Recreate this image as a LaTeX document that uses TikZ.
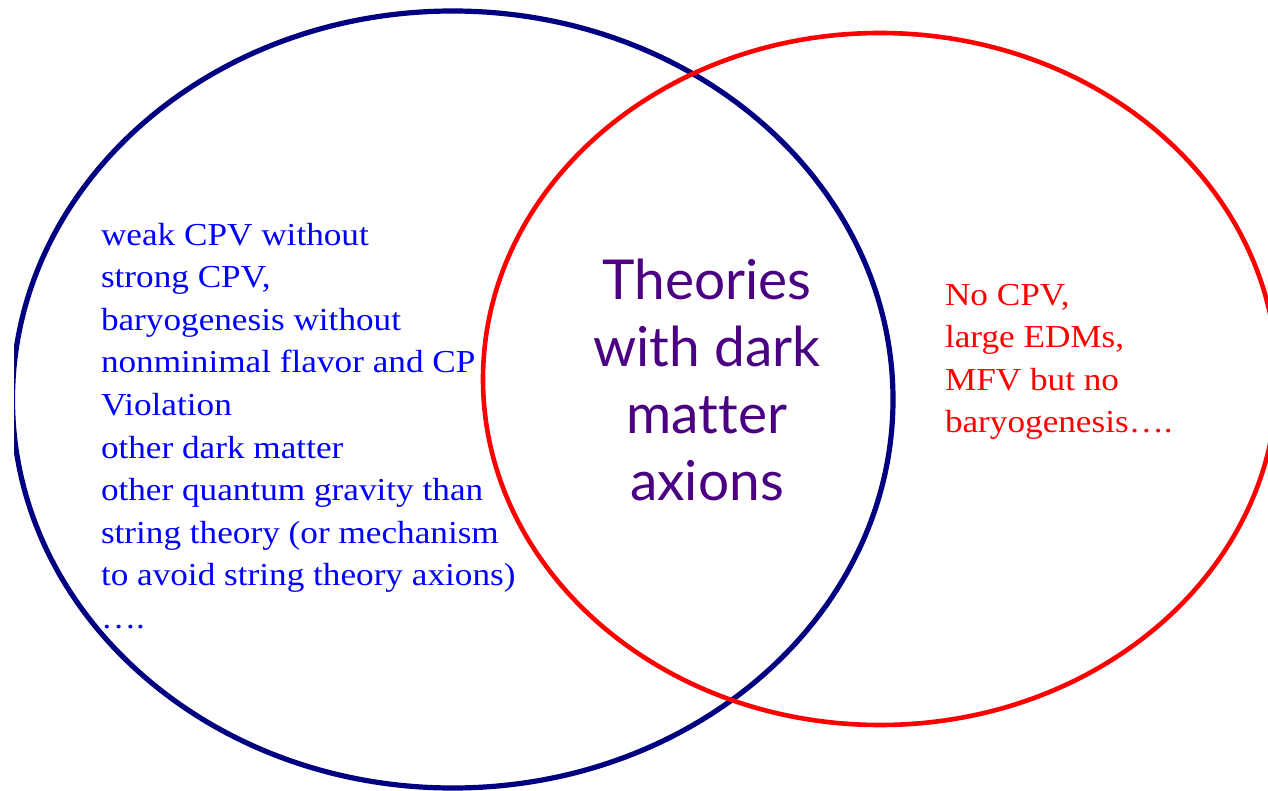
\documentclass[tikz,border=0pt]{standalone}
\usepackage{fontspec}
\setmainfont{Liberation Serif}
\newfontfamily\slidefont[FakeStretch=1.1]{Liberation Serif}
\newfontfamily\titlefont[Ligatures=NoCommon]{Lato}
\usetikzlibrary{shapes.geometric}
\definecolor{navyring}{RGB}{0,0,128}
\definecolor{redring}{RGB}{255,0,0}
\definecolor{bluetext}{RGB}{0,0,255}
\definecolor{redtext}{RGB}{255,0,0}
\definecolor{purpletext}{RGB}{75,0,130}
\tikzset{
  ring/.style={ellipse, draw, inner sep=0pt, outer sep=0pt},
  listtext/.style={anchor=base west, align=left, inner sep=0pt, outer sep=0pt,
    font=\slidefont\fontsize{32}{42.6}\selectfont},
  titletext/.style={anchor=base, align=center, inner sep=0pt, outer sep=0pt,
    font=\titlefont\fontsize{55}{67}\selectfont, text=purpletext},
}
\begin{document}
\begin{tikzpicture}[x=1pt, y=-1pt]
\useasboundingbox (0,0) rectangle (1268,791);
\fill[white] (0,0) rectangle (1268,791);
\begin{scope}
\clip (14,0) rectangle (1268,791);
\node[ring, draw=navyring, line width=5.2pt, minimum width=880.5pt, minimum height=777pt] (blue) at (452.75,399.5) {};
\node[ring, draw=redring, line width=4.6pt, minimum width=794pt, minimum height=692pt] (red) at (880,379) {};
\end{scope}
% base anchor of a multi-line node lies on its last line
\node[listtext, text=bluetext] (left) at (101,628.4) {weak CPV without\\strong CPV,\\baryogenesis without\\nonminimal flavor and CP\\Violation\\other dark matter\\other quantum gravity than\\string theory (or mechanism\\to avoid string theory axions)\\….};
\node[titletext] (mid) at (707,500) {Theories\\with dark\\matter\\axions};
\node[listtext, text=redtext] (right) at (945,432.8) {No CPV,\\large EDMs,\\MFV but no\\baryogenesis….};
\end{tikzpicture}
\end{document}
